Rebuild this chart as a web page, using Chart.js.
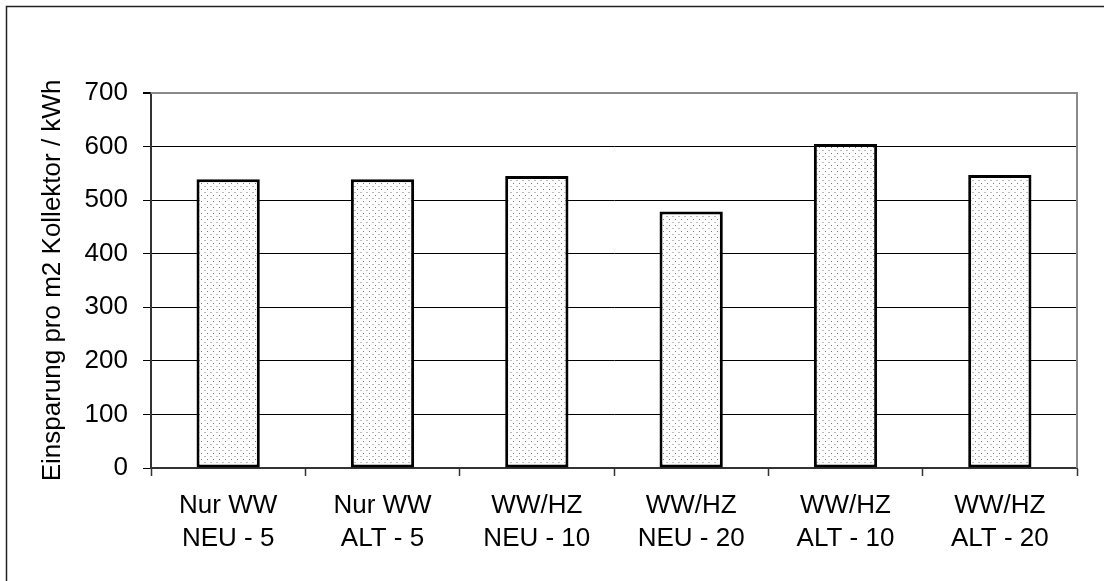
<!DOCTYPE html>
<html>
<head>
<meta charset="utf-8">
<script src="https://cdn.jsdelivr.net/npm/chart.js@4/dist/chart.umd.min.js"></script>
<style>
  html, body { margin: 0; padding: 0; background: #fff; }
  canvas { display: block; }
</style>
</head>
<body>
<canvas id="chart" width="1104" height="581"></canvas>
<script>
// Einsparung pro m2 Kollektor, je Anlagenvariante
const categories = [
  ['Nur WW', 'NEU - 5'],
  ['Nur WW', 'ALT - 5'],
  ['WW/HZ', 'NEU - 10'],
  ['WW/HZ', 'NEU - 20'],
  ['WW/HZ', 'ALT - 10'],
  ['WW/HZ', 'ALT - 20'],
];
const savings = [539, 539, 545, 479, 605, 547];
const yTicks = [0, 100, 200, 300, 400, 500, 600, 700];
const yTitle = 'Einsparung pro m2 Kollektor / kWh';

const FONT = 'Liberation Sans, Arial, sans-serif';

// dotted fill for the bars
function dotPattern() {
  const c = document.createElement('canvas');
  c.width = 6; c.height = 6;
  const g = c.getContext('2d');
  g.fillStyle = '#fff';
  g.fillRect(0, 0, 6, 6);
  g.fillStyle = '#bdbdbd';
  g.fillRect(0, 0, 2, 1);
  g.fillStyle = '#7a7a7a';
  g.fillRect(3, 3, 1, 1);
  return g.createPattern(c, 'repeat');
}

// outer frame + grey top/right edge of the plot
const framePlugin = {
  id: 'frame',
  beforeDraw(chart) {
    const ctx = chart.ctx;
    ctx.save();
    ctx.fillStyle = '#fff';
    ctx.fillRect(0, 0, chart.width, chart.height);
    ctx.strokeStyle = '#222';
    ctx.lineWidth = 1.5;
    ctx.beginPath();
    ctx.moveTo(6.5, chart.height + 2);
    ctx.lineTo(6.5, 6.5);
    ctx.lineTo(chart.width + 2, 6.5);
    ctx.stroke();
    ctx.restore();
  },
  afterDraw(chart) {
    const { ctx, chartArea: a } = chart;
    ctx.save();
    ctx.strokeStyle = '#8a8a8a';
    ctx.lineWidth = 2;
    ctx.beginPath();
    ctx.moveTo(a.left, a.top);
    ctx.lineTo(a.right, a.top);
    ctx.lineTo(a.right, a.bottom);
    ctx.stroke();
    ctx.restore();
  }
};

const ctx = document.getElementById('chart').getContext('2d');
new Chart(ctx, {
  type: 'bar',
  data: {
    labels: categories,
    datasets: [{
      data: savings,
      backgroundColor: dotPattern(),
      borderColor: '#000',
      borderWidth: 3,
      borderSkipped: false,
      categoryPercentage: 0.41,
      barPercentage: 1,
    }],
  },
  options: {
    responsive: false,
    animation: false,
    events: [],
    layout: { padding: { top: 93, right: 27, left: 0, bottom: 0 } },
    plugins: {
      legend: { display: false },
      tooltip: { enabled: false },
    },
    scales: {
      x: {
        afterFit(scale) { scale.height = 113; },
        grid: {
          drawOnChartArea: false,
          tickLength: 8,
          tickColor: '#333',
          tickWidth: 1.5,
        },
        border: { display: true, color: '#333', width: 2 },
        ticks: {
          color: '#000',
          padding: 14,
          maxRotation: 0,
          font: { family: FONT, size: 26, lineHeight: 1.24 },
        },
      },
      y: {
        min: 0,
        max: 700,
        afterFit(scale) { scale.width = 151; },
        afterBuildTicks(scale) { scale.ticks = yTicks.map(v => ({ value: v })); },
        grid: {
          color: (c) => (c.tick && c.tick.value === 700 ? '#8a8a8a' : '#000'),
          lineWidth: (c) => (c.tick && c.tick.value === 700 ? 2 : 1),
          tickColor: '#000',
          tickLength: 8,
        },
        border: { display: true, color: '#333', width: 2 },
        ticks: {
          color: '#000',
          padding: 15,
          font: { family: FONT, size: 26 },
        },
        title: {
          display: true,
          text: yTitle,
          color: '#000',
          padding: { top: 37, bottom: 0 },
          font: { family: FONT, size: 26 },
        },
      },
    },
  },
  plugins: [framePlugin],
});
</script>
</body>
</html>
